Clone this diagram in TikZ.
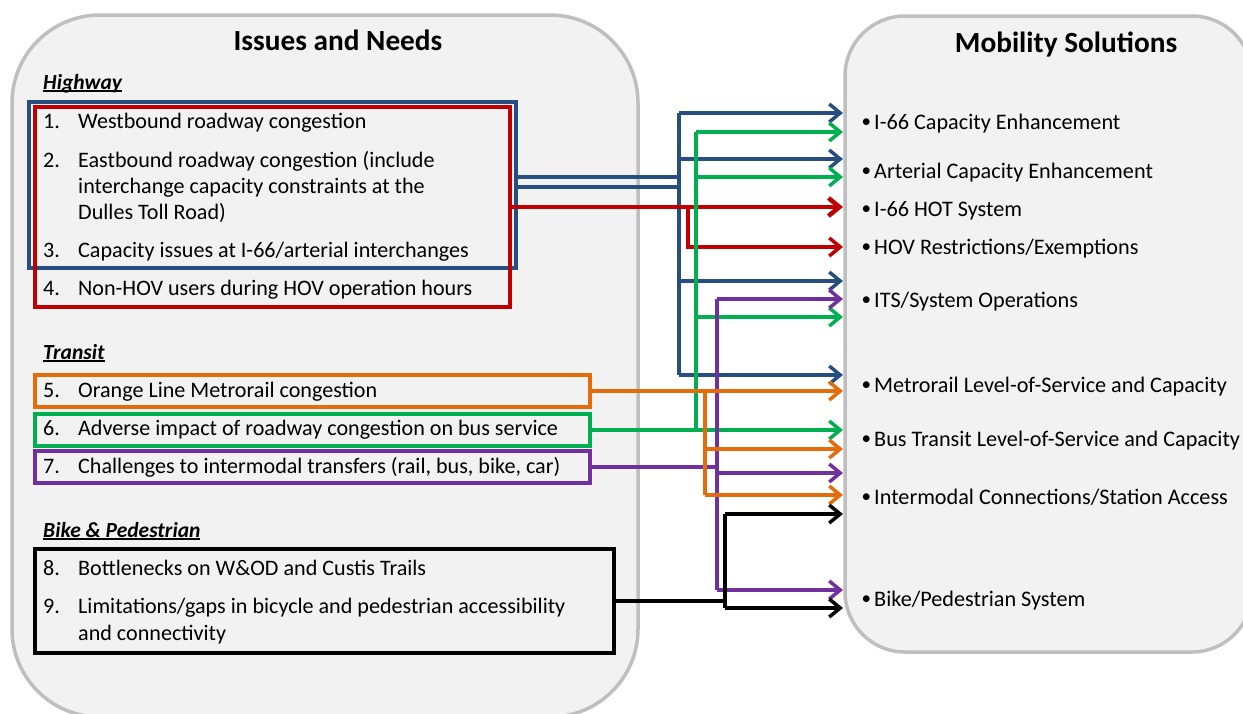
\documentclass[tikz,border=0pt]{standalone}
\usepackage{fontspec}
\setmainfont{Carlito}
\usetikzlibrary{arrows.meta,calc}

\definecolor{panelfill}{HTML}{F2F2F2}
\definecolor{panelline}{HTML}{BFBFBF}
\definecolor{hwblue}{HTML}{264E80}
\definecolor{hwred}{HTML}{C00000}
\definecolor{trorange}{HTML}{E46C0A}
\definecolor{trgreen}{HTML}{00B050}
\definecolor{trpurple}{HTML}{7030A0}

% underline placed through the descenders, as in the category headings
\newcommand\catline[1]{\setbox0\hbox{#1}\rlap{\rule[-3pt]{\wd0}{1.8pt}}\box0}

\tikzset{
  panel/.style={draw=panelline, fill=panelfill, line width=3.5pt},
  title/.style={anchor=base, inner sep=0pt, font=\bfseries\fontsize{29.3}{34}\selectfont},
  cat/.style={anchor=base west, inner sep=0pt, font=\bfseries\itshape\fontsize{21.5}{25}\selectfont},
  txt/.style={anchor=base west, inner sep=0pt, font=\fontsize{22.1}{26}\selectfont},
  sol/.style={anchor=base west, inner sep=0pt, font=\fontsize{22.2}{26}\selectfont},
  ibox/.style={draw=#1, line width=3.5pt, inner sep=0pt, outer sep=0pt},
  wire/.style={draw=#1, line width=3.5pt},
  lnk/.style={draw=#1, line width=3.5pt, -{Straight Barb[length=11pt,width=18pt]}},
}

\newcommand\solbullet{\llap{\raisebox{1.5pt}{\fontsize{19}{19}\selectfont\textbullet}\hspace{3pt}}}

\begin{document}
\begin{tikzpicture}[x=1pt,y=-1pt]
\useasboundingbox (0,0) rectangle (1243,713);

% ---- the two panels
\draw[panel, rounded corners=88pt] (12,15) rectangle (638,717);
\draw[panel, rounded corners=60pt] (845,16) rectangle (1252,652);

\node[title] (issues) at (338,50) {Issues and Needs};
\node[title] (mobility) at (1066,52) {Mobility Solutions};

% ---- issue groups
\node[cat] (hwy) at (43,89) {\catline{Highway}};
\node[cat] (tra) at (43,359) {\catline{Transit}};
\node[cat] (bik) at (43,537) {\catline{Bike \& Pedestrian}};

\node[ibox=hwblue, minimum width=487pt, minimum height=166pt] (hwb) at (272.5,185) {};
\node[ibox=hwred, minimum width=475pt, minimum height=200pt] (hwr) at (272.5,207) {};
\node[ibox=trorange, minimum width=555pt, minimum height=32pt] (org) at (312.5,391) {};
\node[ibox=trgreen, minimum width=555pt, minimum height=32pt] (grn) at (312.5,430) {};
\node[ibox=trpurple, minimum width=555pt, minimum height=32pt] (pur) at (312.5,467) {};
\node[ibox=black, minimum width=579pt, minimum height=104pt] (blk) at (324.5,601) {};

\node[txt] (n1) at (43,128) {1.};
\node[txt] (i1) at (78,128) {Westbound roadway congestion};
\node[txt] (n2) at (43,167) {2.};
\node[txt] (i2a) at (78,167) {Eastbound roadway congestion (include};
\node[txt] (i2b) at (78,193) {interchange capacity constraints at the};
\node[txt] (i2c) at (78,219) {Dulles Toll Road)};
\node[txt] (n3) at (43,257) {3.};
\node[txt] (i3) at (78,257) {Capacity issues at I-66/arterial interchanges};
\node[txt] (n4) at (43,295) {4.};
\node[txt] (i4) at (78,295) {Non-HOV users during HOV operation hours};
\node[txt] (n5) at (43,397) {5.};
\node[txt] (i5) at (78,397) {Orange Line Metrorail congestion};
\node[txt] (n6) at (43,435) {6.};
\node[txt] (i6) at (78,435) {Adverse impact of roadway congestion on bus service};
\node[txt] (n7) at (43,473) {7.};
\node[txt] (i7) at (78,473) {Challenges to intermodal transfers (rail, bus, bike, car)};
\node[txt] (n8) at (43,575) {8.};
\node[txt] (i8) at (78,575) {Bottlenecks on W\&OD and Custis Trails};
\node[txt] (n9) at (43,613) {9.};
\node[txt] (i9a) at (78,613) {Limitations/gaps in bicycle and pedestrian accessibility};
\node[txt] (i9b) at (78,640) {and connectivity};

% ---- solutions
\node[sol] (s1) at (874,129) {\solbullet I-66 Capacity Enhancement};
\node[sol] (s2) at (874,178) {\solbullet Arterial Capacity Enhancement};
\node[sol] (s3) at (874,216) {\solbullet I-66 HOT System};
\node[sol] (s4) at (874,254) {\solbullet HOV Restrictions/Exemptions};
\node[sol] (s5) at (874,307) {\solbullet ITS/System Operations};
\node[sol] (s6) at (874,392) {\solbullet Metrorail Level-of-Service and Capacity};
\node[sol] (s7) at (874,446) {\solbullet Bus Transit Level-of-Service and Capacity};
\node[sol] (s8) at (874,504) {\solbullet Intermodal Connections/Station Access};
\node[sol] (s9) at (874,606) {\solbullet Bike/Pedestrian System};

% ---- arrow end points along the solutions panel
\coordinate (s1b) at (843,113);
\coordinate (s1g) at (843,132);
\coordinate (s2b) at (843,159);
\coordinate (s2g) at (843,177);
\coordinate (s3r) at (843,207);
\coordinate (s4r) at (843,247);
\coordinate (s5b) at (843,281);
\coordinate (s5p) at (843,299);
\coordinate (s5g) at (843,317);
\coordinate (s6b) at (843,375);
\coordinate (s6o) at (843,391);
\coordinate (s7g) at (843,430);
\coordinate (s7o) at (843,449);
\coordinate (s8p) at (843,473);
\coordinate (s8o) at (843,495);
\coordinate (s8k) at (843,514);
\coordinate (s9p) at (843,590);
\coordinate (s9k) at (843,608);

% ---- vertical distribution lines
\coordinate (busB) at (679,113);
\coordinate (busR) at (688,207);
\coordinate (busG) at (696,132);
\coordinate (busO) at (705,391);
\coordinate (busP) at (717,299);
\coordinate (busK) at (725,514);

% highway (blue)
\draw[wire=hwblue] (hwb.east) ++(0,-8) coordinate (hb1) -- (hb1 -| busB);
\draw[wire=hwblue] (hwb.east) ++(0,2) coordinate (hb2) -- (hb2 -| busB);
\draw[wire=hwblue] (busB) -- (busB |- s6b);
\draw[lnk=hwblue] (busB) -- (s1b);
\draw[lnk=hwblue] (busB |- s2b) -- (s2b);
\draw[lnk=hwblue] (busB |- s5b) -- (s5b);
\draw[lnk=hwblue] (busB |- s6b) -- (s6b);

% highway (red)
\draw[lnk=hwred, line width=4.5pt] (hwr.east) -- (s3r);
\draw[lnk=hwred] (busR) |- (s4r);

% bus service (green)
\draw[wire=trgreen] (busG) -- (busG |- grn.east);
\draw[lnk=trgreen] (grn.east) -- (s7g);
\draw[lnk=trgreen] (busG) -- (s1g);
\draw[lnk=trgreen] (busG |- s2g) -- (s2g);
\draw[lnk=trgreen] (busG |- s5g) -- (s5g);

% intermodal transfers (purple)
\draw[wire=trpurple] (pur.east) -- (pur.east -| busP);
\draw[wire=trpurple] (busP) -- (busP |- s9p);
\draw[lnk=trpurple] (busP) -- (s5p);
\draw[lnk=trpurple] (busP |- s8p) -- (s8p);
\draw[lnk=trpurple] (busP |- s9p) -- (s9p);

% metrorail (orange)
\draw[lnk=trorange] (org.east) -- (s6o);
\draw[wire=trorange] (busO) -- (busO |- s8o);
\draw[lnk=trorange] (busO |- s7o) -- (s7o);
\draw[lnk=trorange] (busO |- s8o) -- (s8o);

% bike and pedestrian (black)
\draw[wire=black] (blk.east) -- (blk.east -| busK);
\draw[wire=black] (busK) -- (busK |- s9k);
\draw[lnk=black] (busK) -- (s8k);
\draw[lnk=black] (busK |- s9k) -- (s9k);
\end{tikzpicture}
\end{document}
